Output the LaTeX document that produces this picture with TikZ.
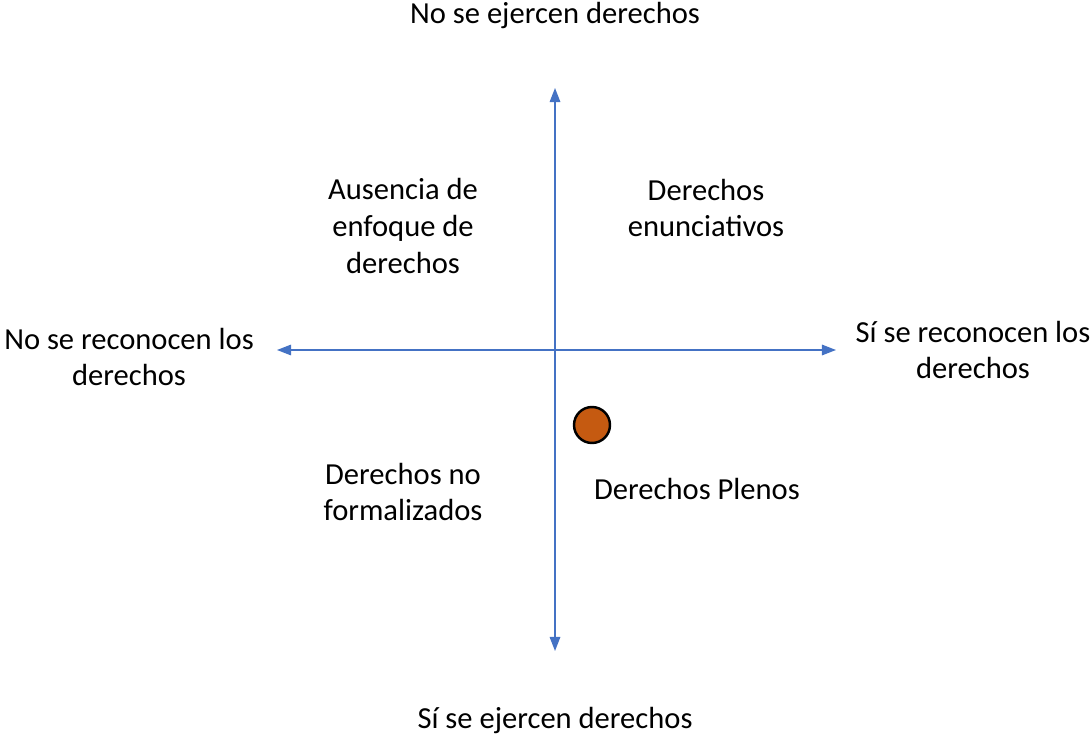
\documentclass[tikz,border=0pt]{standalone}
\usepackage{fontspec}
\setmainfont{Carlito}
\usetikzlibrary{arrows.meta}
\definecolor{ejeazul}{HTML}{4472C4}
\definecolor{puntonaranja}{HTML}{C55A11}
\begin{document}
\begin{tikzpicture}[x=0.02cm,y=-0.02cm,
		eje/.style={{Triangle[length=8pt,width=6pt]}-{Triangle[length=8pt,width=6pt]}, ejeazul, line width=0.8pt},
		etiqueta/.style={align=center, font=\fontsize{17.4}{21}\selectfont, inner sep=0pt},
		punto/.style={circle, draw=black, line width=1.4pt, fill=puntonaranja, minimum size=0.72cm, inner sep=0pt}
		]
		
		\useasboundingbox (0,0) rectangle (1091,736);
		
		\coordinate (arriba) at (555,88);
		\coordinate (abajo) at (555,651);
		\coordinate (izq) at (277,350);
		\coordinate (der) at (836,350);
		
		\draw[eje] (arriba) -- (abajo);
		\draw[eje] (izq) -- (der);
		
		\node[etiqueta] (noejercen) at (555,16) {No se ejercen derechos};
		\node[etiqueta] (siejercen) at (555,720) {Sí se ejercen derechos};
		\node[etiqueta] (noreconocen) at (129,357) {No se reconocen los\\derechos};
		\node[etiqueta] (sireconocen) at (973,350) {Sí se reconocen los\\derechos};
		
		\node[etiqueta] (ausencia) at (403,226) {Ausencia de\\enfoque de\\derechos};
		\node[etiqueta] (enunciativos) at (706,208) {Derechos\\enunciativos};
		\node[etiqueta] (noformal) at (403,492) {Derechos no\\formalizados};
		\node[etiqueta] (plenos) at (697,489) {Derechos Plenos};
		
		\node[punto] (caso) at (592,425) {};
		
	\end{tikzpicture}
\end{document}
